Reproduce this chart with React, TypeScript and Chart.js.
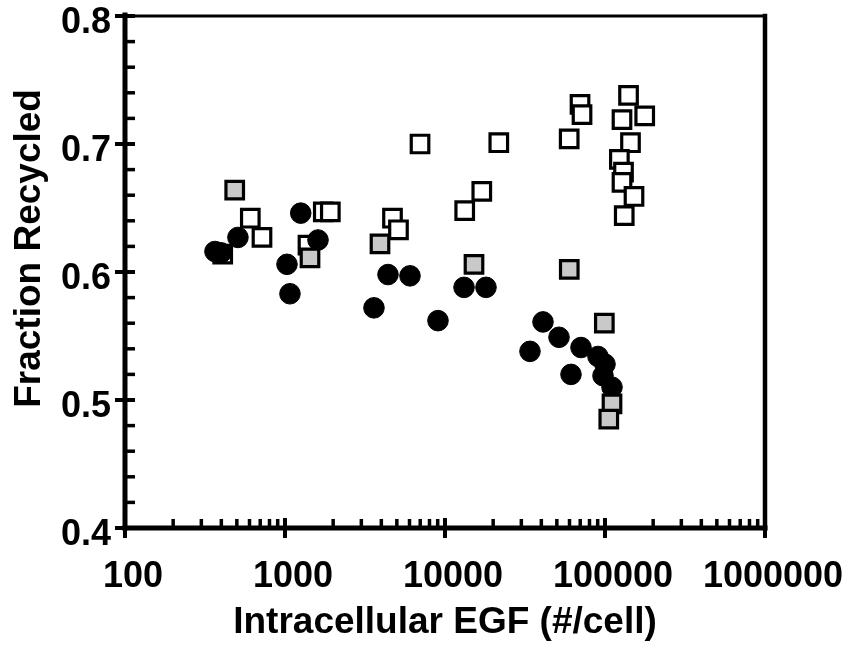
import React, { useEffect, useRef } from 'react';
import { Chart, registerables } from 'chart.js';

Chart.register(...registerables);

// ---- data ----
const xTickValues = [100, 1000, 10000, 100000, 1000000];
const yTickValues = [0.4, 0.5, 0.6, 0.7, 0.8];

const closedX = [365, 398, 508, 1254, 1608, 1029, 1074, 3598, 4402, 6043, 9040, 13150, 18040, 40970, 33970, 51580, 61300, 70790, 90400, 100000, 97160, 110600];
const closedY = [0.616, 0.615, 0.627, 0.646, 0.625, 0.606, 0.583, 0.572, 0.598, 0.597, 0.562, 0.588, 0.588, 0.561, 0.538, 0.549, 0.520, 0.541, 0.534, 0.528, 0.519, 0.510];

const grayX = [485, 3924, 1433, 15180, 59800, 99050, 110600, 105600];
const grayY = [0.664, 0.622, 0.611, 0.606, 0.602, 0.560, 0.497, 0.485];

const openX = [408, 607, 718, 1392, 1735, 1920, 4697, 5119, 6981, 21690, 16980, 13280, 59730, 69810, 71840, 140300, 177100, 127700, 144300, 123000, 130500, 127700, 151800, 131900];
const openY = [0.614, 0.642, 0.627, 0.621, 0.647, 0.647, 0.642, 0.633, 0.700, 0.701, 0.663, 0.648, 0.704, 0.731, 0.723, 0.738, 0.722, 0.719, 0.701, 0.688, 0.678, 0.670, 0.659, 0.644];

const xTitle = 'Intracellular EGF (#/cell)';
const yTitle = 'Fraction Recycled';

const toPoints = (xs: number[], ys: number[]) => xs.map((x, i) => ({ x, y: ys[i] }));

const FONT = '"Liberation Sans", Arial, Helvetica, sans-serif';

const zeroPad = (s: any) => {
  s.paddingTop = 0;
  s.paddingBottom = 0;
  s.paddingLeft = 0;
  s.paddingRight = 0;
};

const framePlugin = {
  id: 'frame',
  afterDraw(chart: any) {
    const { ctx, chartArea: a, scales } = chart;
    const xs = scales.x;
    const ys = scales.y;
    ctx.save();
    ctx.strokeStyle = '#000';
    ctx.lineCap = 'butt';
    const line = (x1: number, y1: number, x2: number, y2: number, w: number) => {
      ctx.lineWidth = w;
      ctx.beginPath();
      ctx.moveTo(x1, y1);
      ctx.lineTo(x2, y2);
      ctx.stroke();
    };
    // x minor ticks (inside)
    for (let d = xTickValues[0]; d < xTickValues[xTickValues.length - 1]; d *= 10) {
      for (let k = 2; k <= 9; k++) {
        const px = xs.getPixelForValue(d * k);
        line(px, a.bottom, px, a.bottom - 9, 3.5);
      }
    }
    // x major ticks (cross)
    xTickValues.forEach((v) => {
      const px = xs.getPixelForValue(v);
      line(px, a.bottom - 10, px, a.bottom + 10, 4);
    });
    // y minor ticks (inside)
    for (let i = 1; i < 20; i++) {
      if (i % 5 === 0) continue;
      const v = yTickValues[0] + i * 0.02;
      const py = ys.getPixelForValue(v);
      line(a.left, py, a.left + 10, py, 3.5);
    }
    // y major ticks (cross)
    yTickValues.forEach((v) => {
      const py = ys.getPixelForValue(v);
      line(a.left - 10, py, a.left + 10, py, 4);
    });
    // frame
    ctx.lineCap = 'square';
    line(a.left, a.top, a.right, a.top, 3);
    line(a.right, a.top, a.right, a.bottom, 4.5);
    line(a.left, a.top - 1, a.left, a.bottom, 5);
    line(a.left, a.bottom, a.right, a.bottom, 5);

    // y-axis title (drawn slightly above the axis centre, as in the original)
    ctx.translate(30, a.top + (a.bottom - a.top) * 0.454);
    ctx.rotate(-Math.PI / 2);
    ctx.fillStyle = '#000';
    ctx.font = `bold 37px ${FONT}`;
    ctx.textAlign = 'center';
    ctx.textBaseline = 'middle';
    ctx.fillText(yTitle, 0, 0);
    ctx.restore();
  },
};

export default function App() {
  const ref = useRef<HTMLCanvasElement | null>(null);

  useEffect(() => {
    if (!ref.current) return;
    const chart = new Chart(ref.current, {
      type: 'scatter',
      data: {
        datasets: [
          {
            label: 'gray',
            data: toPoints(grayX, grayY),
            pointStyle: 'rect',
            pointRadius: 12.4,
            pointBorderWidth: 3.2,
            pointBackgroundColor: '#c9c9c9',
            pointBorderColor: '#000',
            order: 0,
          },
          {
            label: 'closed',
            data: toPoints(closedX, closedY),
            pointStyle: 'circle',
            pointRadius: 10.3,
            pointBorderWidth: 1,
            pointBackgroundColor: '#000',
            pointBorderColor: '#000',
            order: 1,
          },
          {
            label: 'open',
            data: toPoints(openX, openY),
            pointStyle: 'rect',
            pointRadius: 12.4,
            pointBorderWidth: 3.2,
            pointBackgroundColor: '#fff',
            pointBorderColor: '#000',
            order: 2,
          },
        ],
      },
      options: {
        animation: false,
        responsive: false,
        devicePixelRatio: 1,
        layout: { padding: { top: 16, right: 93, left: 0, bottom: 0 } },
        plugins: { legend: { display: false }, tooltip: { enabled: false } },
        scales: {
          x: {
            type: 'logarithmic',
            min: 100,
            max: 1000000,
            grid: { display: false, drawTicks: false },
            border: { display: false },
            afterBuildTicks: (s: any) => {
              s.ticks = xTickValues.map((v) => ({ value: v }));
            },
            afterFit: (s: any) => {
              s.height = 124;
              zeroPad(s);
            },
            ticks: {
              color: '#000',
              font: { family: FONT, size: 36, weight: 'bold' },
              padding: 27,
              labelOffset: 8,
              maxRotation: 0,
              autoSkip: false,
              callback: (v: any) => Number(v).toFixed(0),
            },
            title: {
              display: true,
              text: xTitle,
              color: '#000',
              font: { family: FONT, size: 37, weight: 'bold' },
              padding: { top: 0, bottom: 7 },
            },
          },
          y: {
            type: 'linear',
            min: 0.4,
            max: 0.8,
            grid: { display: false, drawTicks: false },
            border: { display: false },
            afterBuildTicks: (s: any) => {
              s.ticks = yTickValues.map((v) => ({ value: v }));
            },
            afterFit: (s: any) => {
              s.width = 125;
              zeroPad(s);
            },
            ticks: {
              color: '#000',
              font: { family: FONT, size: 36, weight: 'bold' },
              padding: 14,
              labelOffset: 7,
              autoSkip: false,
              callback: (v: any) => Number(v).toFixed(1),
            },
            title: { display: false },
          },
        },
      },
      plugins: [framePlugin],
    } as any);
    return () => chart.destroy();
  }, []);

  return (
    <div style={{ position: 'absolute', left: 0, top: 0, width: 858, height: 652, background: '#fff' }}>
      <canvas ref={ref} width={858} height={652} style={{ display: 'block' }} />
    </div>
  );
}
